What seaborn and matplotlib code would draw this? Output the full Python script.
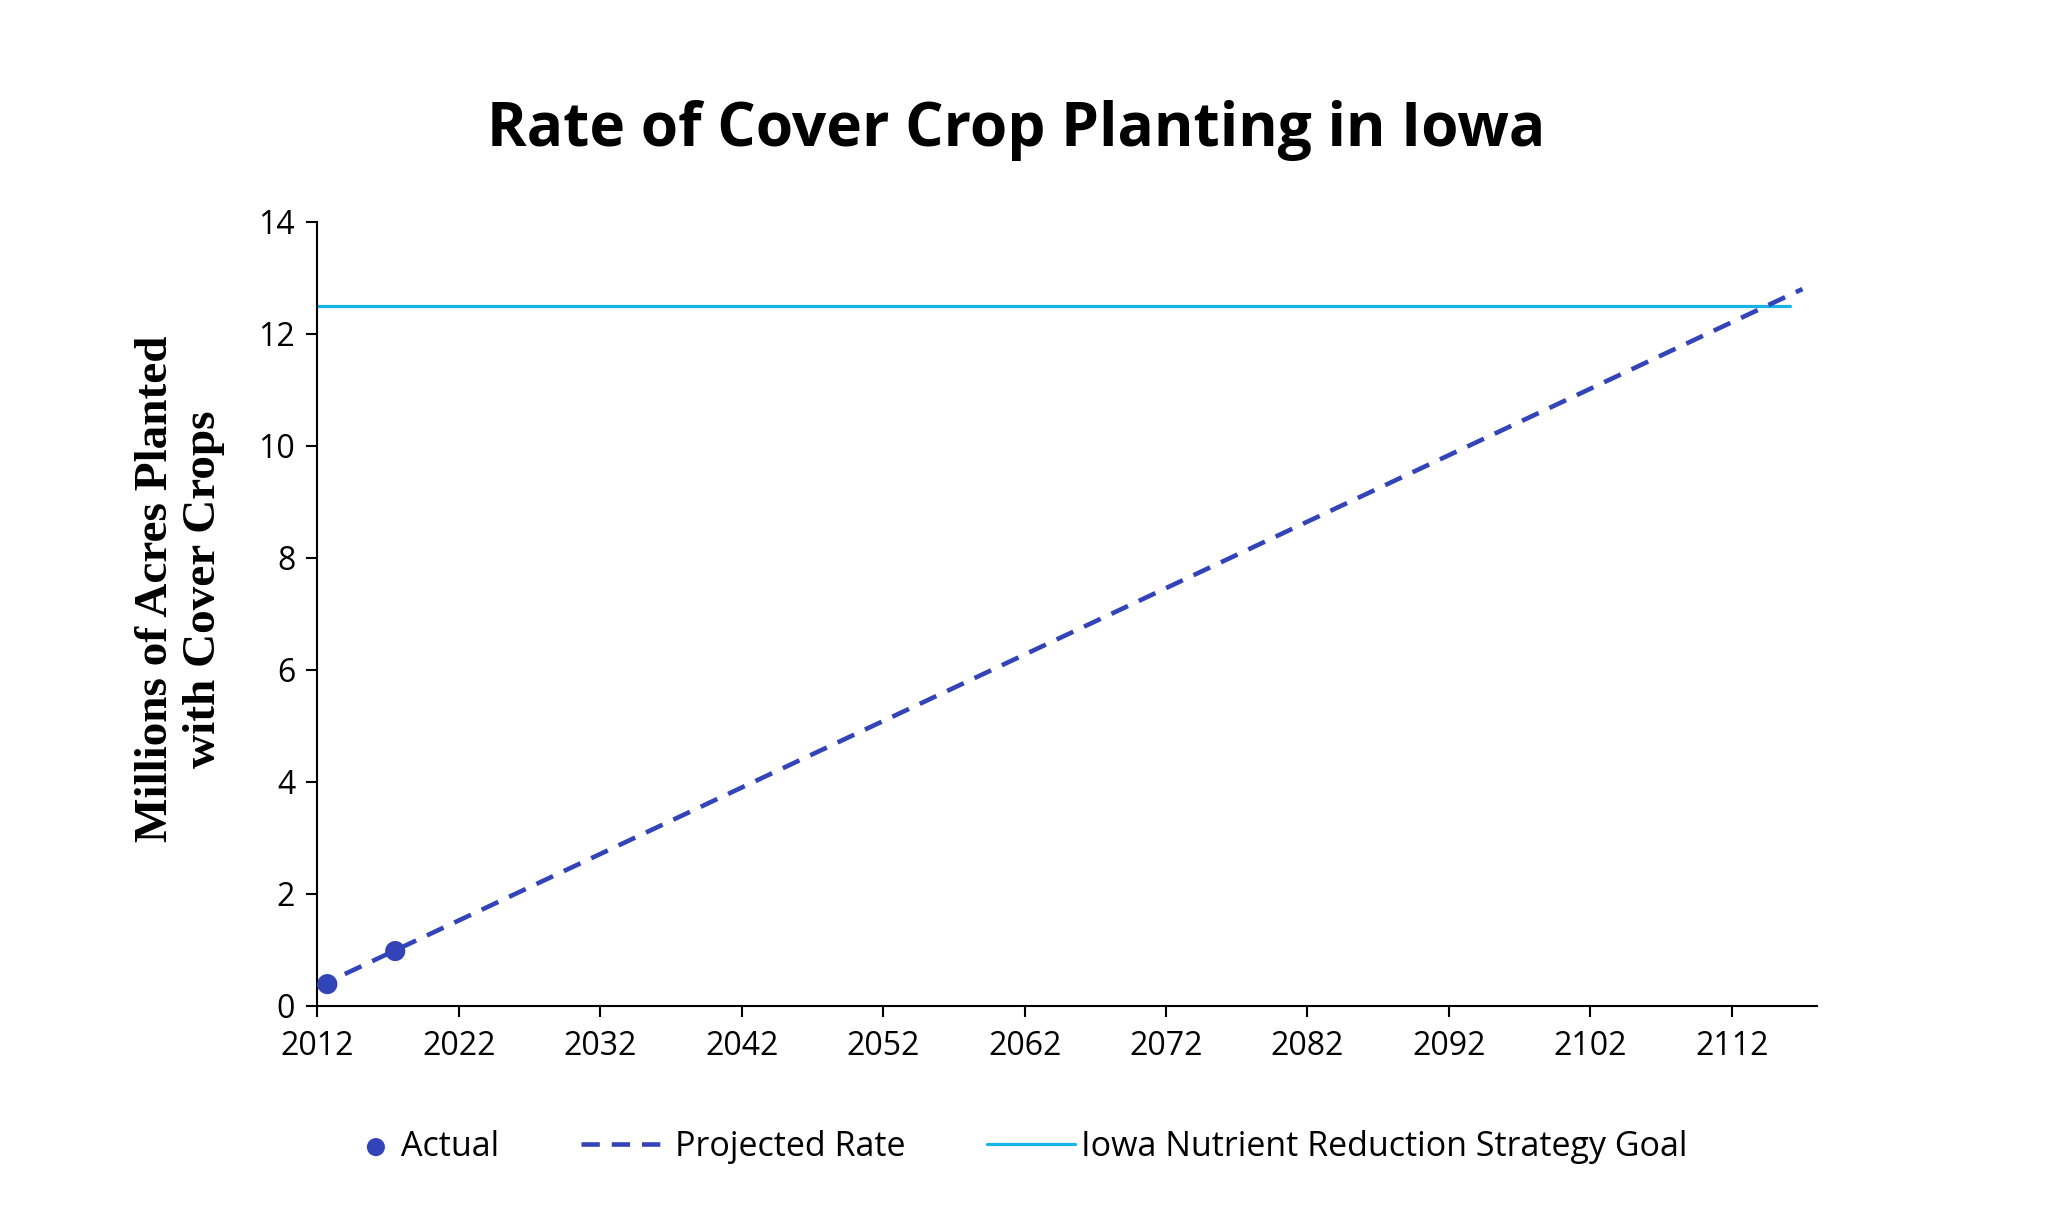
import numpy as np
import pandas as pd
import seaborn as sns
import matplotlib.pyplot as plt
from matplotlib.legend_handler import HandlerPathCollection

# values
actual_years = [2012.7, 2017.5]
actual_acres = [0.39, 0.98]
projected_years = [2012.0, 2117.0]
projected_acres = [0.34, 12.8]
goal_years = [2012.0, 2116.1]
goal_acres = [12.5, 12.5]
x_ticks = [2012, 2022, 2032, 2042, 2052, 2062, 2072, 2082, 2092, 2102, 2112]
y_ticks = [0, 2, 4, 6, 8, 10, 12, 14]

dark_blue = '#3344B8'
light_blue = '#14B4EA'

sns.set_style('ticks')
plt.rcParams['font.family'] = ['Open Sans', 'DejaVu Sans']
plt.rcParams['text.color'] = 'black'


class RightDot(HandlerPathCollection):
    # put the legend dot near the text, like the reference
    def get_xdata(self, legend, xdescent, ydescent, width, height, fontsize):
        x = [-xdescent + width - 0.6 * fontsize]
        return x, x


fig = plt.figure(figsize=(20.48, 12.29), dpi=100)
ax = fig.add_axes([0.155, 0.1815, 0.732, 0.638])

df_proj = pd.DataFrame({'year': projected_years, 'acres': projected_acres})
df_goal = pd.DataFrame({'year': goal_years, 'acres': goal_acres})
df_act = pd.DataFrame({'year': actual_years, 'acres': actual_acres})

sns.lineplot(data=df_goal, x='year', y='acres', ax=ax, color=light_blue, lw=2.3,
             label='Iowa Nutrient Reduction Strategy Goal', zorder=2)
sns.lineplot(data=df_proj, x='year', y='acres', ax=ax, color=dark_blue, lw=3.3,
             dashes=False, label='Projected Rate', zorder=3)
ax.lines[-1].set_dashes([4.0, 2.6])
sns.scatterplot(data=df_act, x='year', y='acres', ax=ax, color=dark_blue, s=210,
                edgecolor='none', label='Actual', zorder=4, clip_on=False)

ax.set_xlim(2012, 2118)
ax.set_ylim(0, 14)
ax.set_xticks(x_ticks)
ax.set_yticks(y_ticks)
ax.tick_params(axis='both', labelsize=23, length=8, width=1.5, colors='black')
ax.tick_params(axis='x', pad=9)
ax.tick_params(axis='y', pad=8)
for s in ['left', 'bottom']:
    ax.spines[s].set_linewidth(1.5)
    ax.spines[s].set_color('black')
sns.despine(ax=ax)

ax.set_xlabel('')
ax.set_ylabel('Millions of Acres Planted\nwith Cover Crops', family='Liberation Serif',
              fontweight='bold', fontsize=34, labelpad=24, linespacing=1.2, color='black')
ax.yaxis.label.set_y(0.532)

fig.text(0.496, 0.894, 'Rate of Cover Crop Planting in Iowa', ha='center', va='center',
         fontsize=43.5, fontweight='bold', color='black')

h, l = ax.get_legend_handles_labels()
order = [l.index('Actual'), l.index('Projected Rate'), l.index('Iowa Nutrient Reduction Strategy Goal')]
ax.get_legend().remove()
fig.legend([h[i] for i in order], [l[i] for i in order], loc='center',
           bbox_to_anchor=(0.487, 0.0667), ncol=3, frameon=False, fontsize=24.5,
           handlelength=2.6, handletextpad=0.15, columnspacing=2.4, markerscale=0.9,
           handler_map={type(h[order[0]]): RightDot()})

fig.savefig('out.png', dpi=100, facecolor='white')
